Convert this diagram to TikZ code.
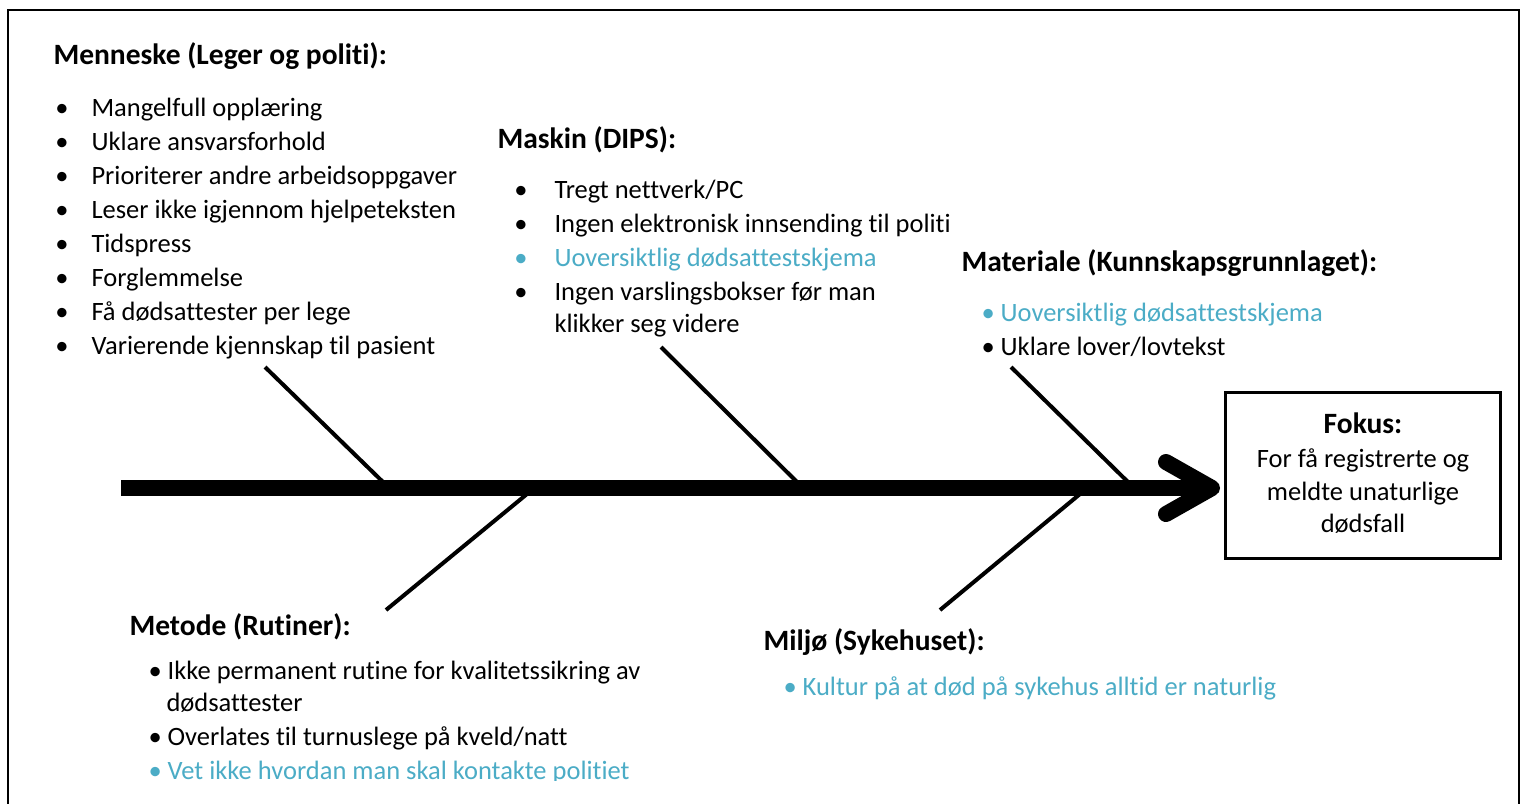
\documentclass[tikz,border=0pt]{standalone}
\usepackage{fontspec}
\setmainfont[Ligatures=NoCommon]{Carlito}
\definecolor{aqua}{RGB}{75,172,198}

\newcommand{\hd}{\node[head]}
\newcommand{\li}{\node[line]}
\newcommand{\bt}{\node[dot]}

\tikzset{
    head/.style={anchor=base west, inner sep=0pt, font=\fontsize{11.8}{14}\selectfont\bfseries},
    line/.style={anchor=base west, inner sep=0pt},
    dot/.style={anchor=base, inner sep=0pt},
    mid/.style={anchor=base, inner sep=0pt},
    bone/.style={line width=1.6pt},
    spine/.style={line width=6.4pt},
}

\begin{document}
\begin{tikzpicture}[x=0.4pt, y=-0.4pt, font=\fontsize{10.6}{13}\selectfont]
            \useasboundingbox (0,0) rectangle (1526,803);
            \draw[line width=0.8pt] (8,820) |- (1519,10) -- (1519,820);

            % Menneske
            \hd (men) at (53,64) {Menneske (Leger og politi):};
            \foreach \t [count=\i from 0] in {Mangelfull opplæring, Uklare ansvarsforhold,
                Prioriterer andre arbeidsoppgaver, Leser ikke igjennom hjelpeteksten,
                Tidspress, Forglemmelse, Få dødsattester per lege,
                Varierende kjennskap til pasient}
            {
                \bt (menb\i) at (62, 116+34*\i) {•};
                \li (men\i) at (91, 116+34*\i) {\t};
            }

            % Maskin
            \hd (mas) at (497,148) {Maskin (DIPS):};
            \bt (masb1) at (521,198) {•};
            \li (mas1) at (554,198) {Tregt nettverk/PC};
            \bt (masb2) at (521,232) {•};
            \li (mas2) at (554,232) {Ingen elektronisk innsending til politi};
            \bt[text=aqua] (masb3) at (521,266) {•};
            \li[text=aqua] (mas3) at (554,266) {Uoversiktlig dødsattestskjema};
            \bt (masb4) at (521,300) {•};
            \li (mas4) at (554,300) {Ingen varslingsbokser før man};
            \li (mas5) at (554,332) {klikker seg videre};

            % Materiale
            \hd (mat) at (961,271) {Materiale (Kunnskapsgrunnlaget):};
            \li[text=aqua] (mat1) at (981,321) {• Uoversiktlig dødsattestskjema};
            \li (mat2) at (981,355) {• Uklare lover/lovtekst};

            % Metode
            \hd (met) at (129,635) {Metode (Rutiner):};
            \li (met1) at (148,679) {• Ikke permanent rutine for kvalitetssikring av};
            \li (met2) at (166,711) {dødsattester};
            \li (met3) at (148,745) {• Overlates til turnuslege på kveld/natt};
            \begin{scope}
                \clip (0,0) rectangle (1526,780);
                \li[text=aqua] (met4) at (148,779) {• Vet ikke hvordan man skal kontakte politiet};
            \end{scope}

            % Miljo
            \hd (mil) at (763,650) {Miljø (Sykehuset):};
            \li[text=aqua] (mil1) at (783,695) {• Kultur på at død på sykehus alltid er naturlig};

            % Fokus
            \node[draw, line width=1.2pt, minimum width=110pt, minimum height=66.4pt] (fokus) at (1362.5,475) {};
            \node[mid, font=\fontsize{11.8}{14}\selectfont\bfseries] (fok0) at (1363,433) {Fokus:};
            \node[mid] (fok1) at (1363,467) {For få registrerte og};
            \node[mid] (fok2) at (1363,500) {meldte unaturlige};
            \node[mid] (fok3) at (1363,532) {dødsfall};

            % ryggrad og bein
            \coordinate (tail) at (121,488);
            \coordinate (tip) at (1212,488);
            \coordinate (hup) at (1166,462);
            \coordinate (hdn) at (1166,514);
            \coordinate (b1a) at (265,367);
            \coordinate (b1b) at (383,482);
            \coordinate (b2a) at (661,347);
            \coordinate (b2b) at (797,482);
            \coordinate (b3a) at (1011,367);
            \coordinate (b3b) at (1128,482);
            \coordinate (b4a) at (527,494);
            \coordinate (b4b) at (386,610);
            \coordinate (b5a) at (1080,494);
            \coordinate (b5b) at (940,610);

            \draw[bone]
                (b1a) -- (b1b)
                (b2a) -- (b2b)
                (b3a) -- (b3b)
                (b4a) -- (b4b)
                (b5a) -- (b5b)
                ;

            \draw[spine] (tail) -- (tip);
            \draw[spine, line cap=round, line join=round]
                (hup) -- (tip) -- (hdn)
                ;
\end{tikzpicture}
\end{document}
